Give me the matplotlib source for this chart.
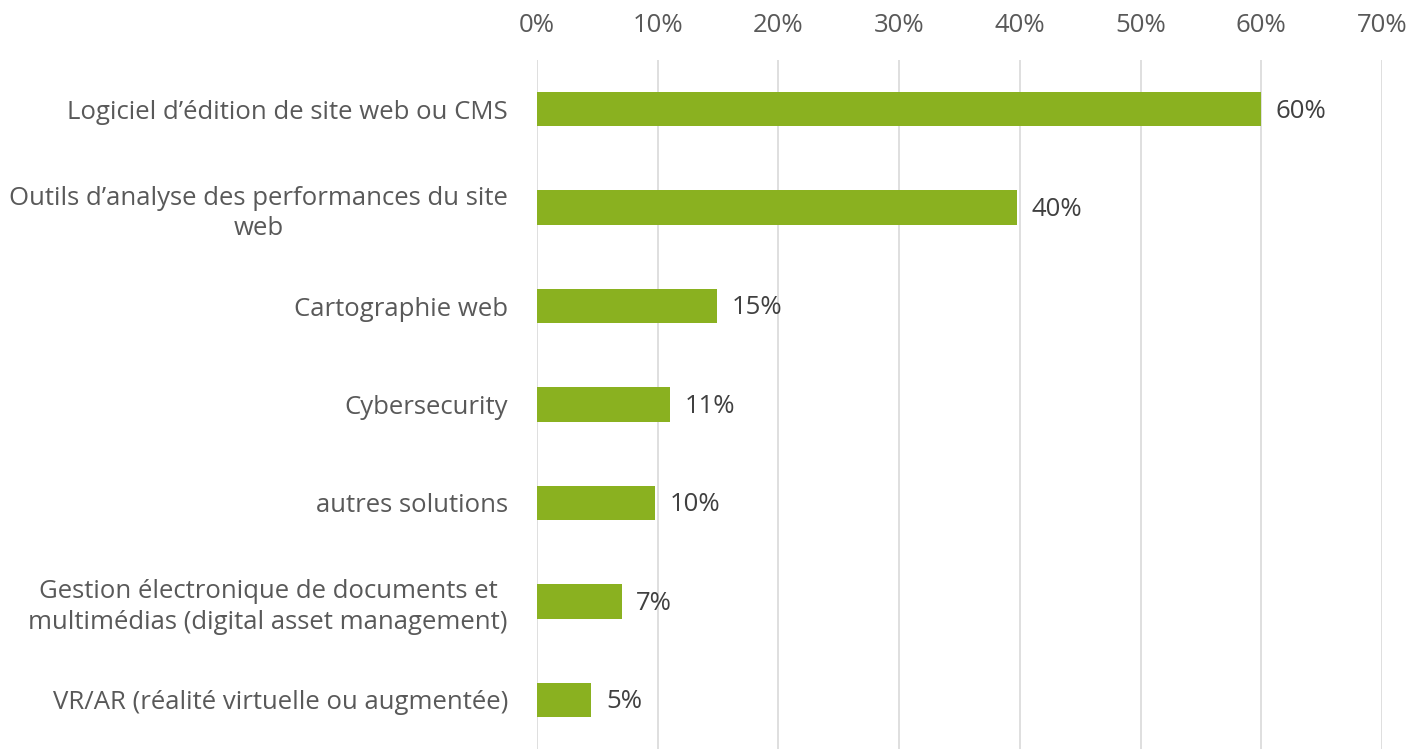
import matplotlib
matplotlib.use('Agg')
import matplotlib.pyplot as plt
from matplotlib.ticker import FuncFormatter, MultipleLocator

plt.rcParams['font.family'] = ['Open Sans', 'DejaVu Sans']

# データ（上から順）
categories = [
    "Logiciel d\u2019édition de site web ou CMS",
    "Outils d\u2019analyse des performances du site\nweb",
    "Cartographie web",
    "Cybersecurity",
    "autres solutions",
    "Gestion électronique de documents et\nmultimédias (digital asset management)",
    "VR/AR (réalité virtuelle ou augmentée)",
]
values = [60.0, 39.8, 14.9, 11.0, 9.8, 7.0, 4.5]
value_labels = ["60%", "40%", "15%", "11%", "10%", "7%", "5%"]

bar_color = '#8AB120'
text_color = '#595959'
grid_color = '#D9D9D9'

fig = plt.figure(figsize=(14.1, 7.49), dpi=100)
ax = fig.add_axes([0.3809, 0.0, 0.5992, 0.92])

y = list(range(len(categories)))
ax.barh(y, values, height=0.35, color=bar_color, zorder=3)

for yi, v, lab in zip(y, values, value_labels):
    ax.text(v + 1.2, yi + 0.02, lab, va='center', ha='left', fontsize=18.5, color='#404040')

ax.set_xlim(0, 70)
ax.set_ylim(len(categories) - 0.5, -0.5)
ax.xaxis.set_major_locator(MultipleLocator(10))
ax.xaxis.set_major_formatter(FuncFormatter(lambda x, _: f"{x:.0f}%"))
ax.xaxis.tick_top()
ax.tick_params(axis='x', length=0, pad=16, labelsize=18.5, labelcolor=text_color)
ax.tick_params(axis='y', length=0, pad=21, labelsize=18.5, labelcolor=text_color)
ax.set_yticks(y)
ax.set_yticklabels(categories, multialignment='center', linespacing=1.3)
ax.grid(axis='x', color=grid_color, linewidth=1.2, zorder=0)
for s in ax.spines.values():
    s.set_visible(False)

plt.savefig('out.png', dpi=100)
